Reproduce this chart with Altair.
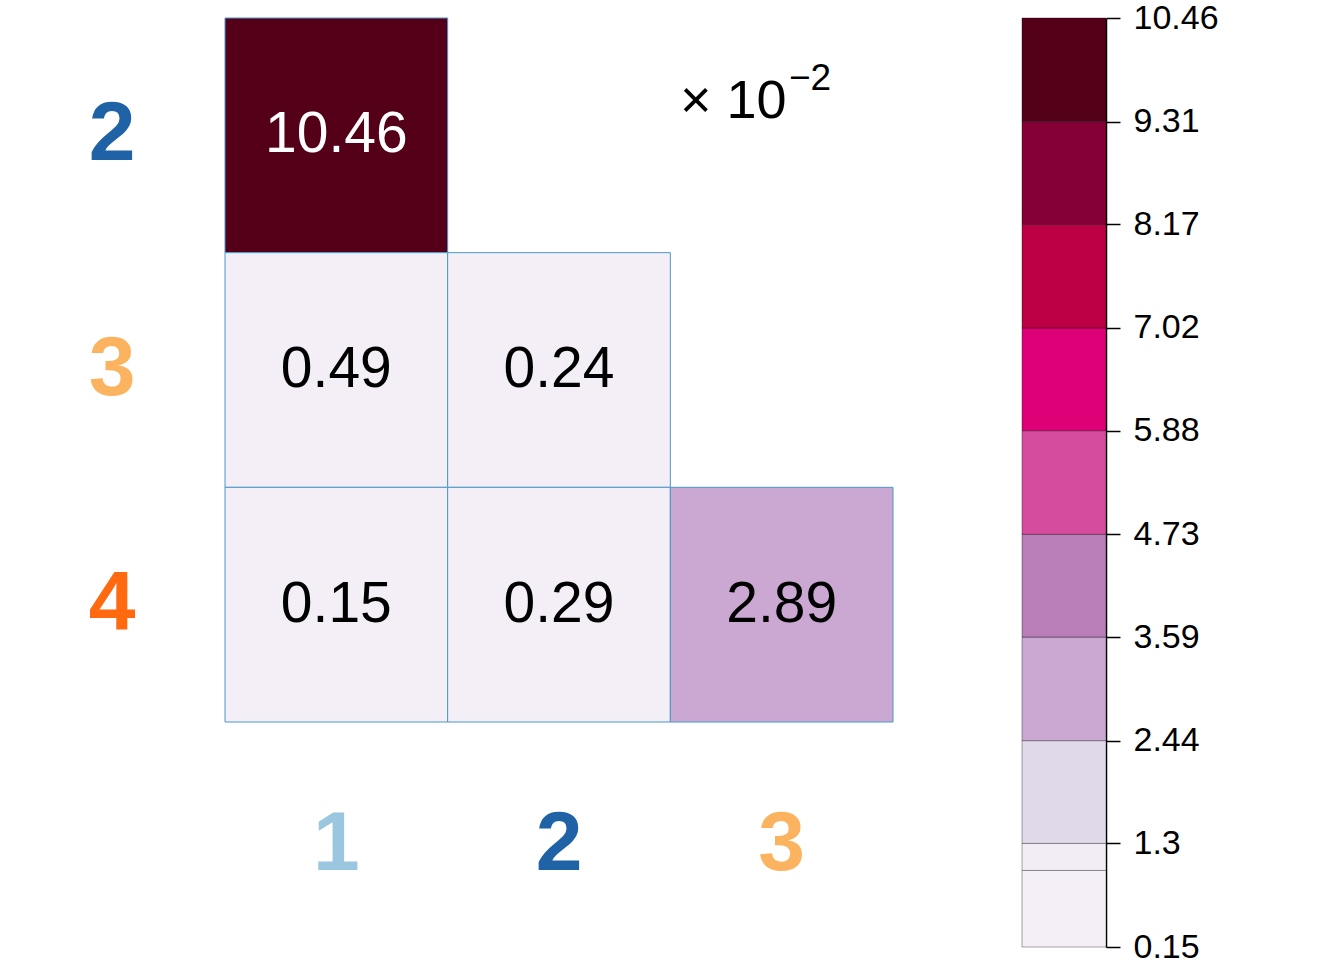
import altair as alt
import pandas as pd

FONT = "Liberation Sans"

# ---- data ----
rows = ["2", "3", "4"]
cols = ["1", "2", "3"]
cell_row = ["2", "3", "3", "4", "4", "4"]
cell_col = ["1", "1", "2", "1", "2", "3"]
cell_val = [10.46, 0.49, 0.24, 0.15, 0.29, 2.89]

bin_lower = [0.15, 1.0, 1.3, 2.44, 3.59, 4.73, 5.88, 7.02, 8.17, 9.31]
bin_upper = [1.0, 1.3, 2.44, 3.59, 4.73, 5.88, 7.02, 8.17, 9.31, 10.46]
bin_colors = ["#f4eff6", "#f2edf5", "#e0d9ea", "#caa8d1", "#b97eb8",
              "#d54b9e", "#de0077", "#bd0045", "#850036", "#540019"]
cbar_ticks = [0.15, 1.3, 2.44, 3.59, 4.73, 5.88, 7.02, 8.17, 9.31, 10.46]

label_colors = {"1": "#9ac6df", "2": "#1f62a5", "3": "#fbb35f", "4": "#ff6a10"}

cells = pd.DataFrame({"row": cell_row, "col": cell_col, "value": cell_val})
bins = pd.DataFrame({"lower": bin_lower, "upper": bin_upper})
bins["mid"] = (bins["lower"] + bins["upper"]) / 2

color_scale = alt.Scale(type="threshold", domain=bin_lower[1:], range=bin_colors)


def cond_colors(keys):
    return {
        "condition": [{"test": f"datum.value == '{k}'", "value": label_colors[k]} for k in keys],
        "value": "black",
    }


x_enc = alt.X("col:O", scale=alt.Scale(domain=cols, paddingInner=0, paddingOuter=0),
              axis=alt.Axis(title=None, domain=False, ticks=False, labelAngle=0,
                            labelFontSize=84, labelFontWeight="bold", labelFont=FONT,
                            labelPadding=81, labelColor=cond_colors(cols)))
y_enc = alt.Y("row:O", scale=alt.Scale(domain=rows, paddingInner=0, paddingOuter=0),
              axis=alt.Axis(title=None, domain=False, ticks=False,
                            labelFontSize=84, labelFontWeight="bold", labelFont=FONT,
                            labelPadding=90, labelColor=cond_colors(rows)))

base = alt.Chart(cells)
rects = base.mark_rect(stroke="#4a98c9", strokeWidth=1).encode(
    x=x_enc, y=y_enc,
    color=alt.Color("value:Q", scale=color_scale, legend=None),
)
texts = base.mark_text(font=FONT, fontSize=57).encode(
    x="col:O", y="row:O",
    text=alt.Text("value:Q", format=".2f"),
    color=alt.condition(alt.datum.value > 8, alt.value("white"), alt.value("black")),
)
mult = alt.Chart(pd.DataFrame({"t": ["\u00d7 10"]})).mark_text(
    font=FONT, fontSize=54, align="left", baseline="alphabetic"
).encode(x=alt.value(455), y=alt.value(100), text="t:N")
expo = alt.Chart(pd.DataFrame({"t": ["\u22122"]})).mark_text(
    font=FONT, fontSize=37, align="left", baseline="alphabetic"
).encode(x=alt.value(564), y=alt.value(72), text="t:N")

heat = alt.layer(rects, texts, mult, expo).properties(width=668, height=704)

cbar = alt.Chart(bins).mark_rect(stroke="black", strokeOpacity=0.35, strokeWidth=1).encode(
    x=alt.value(0), x2=alt.value(84),
    y=alt.Y("lower:Q", scale=alt.Scale(domain=[0.15, 10.46], nice=False, zero=False),
            axis=alt.Axis(orient="right", title=None, values=cbar_ticks, format=".4~g",
                          grid=False, domainColor="black", domainWidth=1.5,
                          tickColor="black", tickWidth=1.5, tickSize=14,
                          labelPadding=13, labelFontSize=34, labelFont=FONT,
                          labelColor="black", labelFlush=False, labelOverlap=False)),
    y2="upper:Q",
    color=alt.Color("mid:Q", scale=color_scale, legend=None),
).properties(width=84, height=929)

chart = alt.hconcat(heat, cbar, spacing=129, bounds="flush").properties(
    padding={"left": 88, "top": 1, "right": 0, "bottom": 0},
    background="white",
).configure_view(strokeWidth=0, strokeOpacity=0)

chart.save("out.html", embed_options={"renderer": "svg", "actions": False})
